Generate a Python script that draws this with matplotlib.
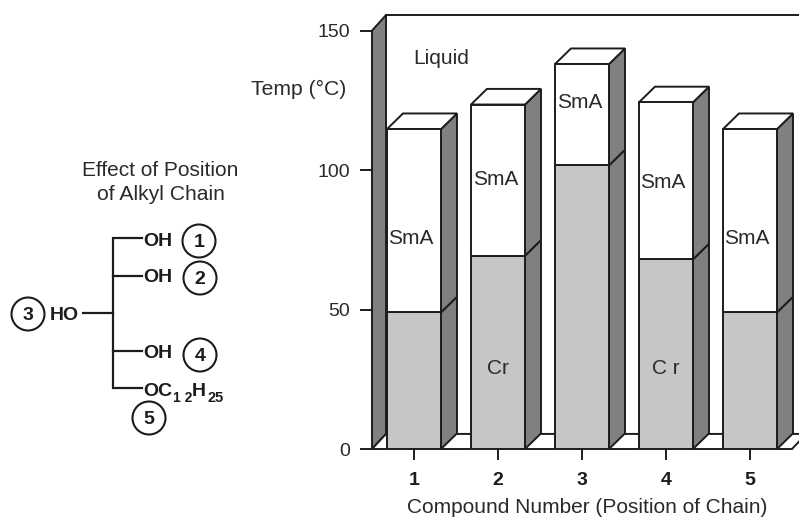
import matplotlib
matplotlib.use('Agg')
import matplotlib.pyplot as plt
from matplotlib.patches import Polygon, Circle

# values
compounds = [1, 2, 3, 4, 5]
cr_top = [49, 69.3, 101.7, 68, 49]
sma_top = [114.7, 123.5, 138, 124.3, 114.7]
temp_ticks = [0, 50, 100, 150]

GREY_FRONT = '#c6c6c6'
GREY_SIDE = '#808080'
INK = '#1c1c1c'
TEXT = '#2a2a2a'
LW = 1.4

plt.rcParams['font.family'] = ['Liberation Sans', 'DejaVu Sans']

fig = plt.figure(figsize=(7.99, 5.17), dpi=100)
ax = fig.add_axes([372 / 799, 68 / 517, 427 / 799, 434 / 517])
ax.set_xlim(0.5, 5.583)
ax.set_ylim(0, 155.6)
for side in ax.spines.values():
    side.set_visible(False)

bar_w = 0.643
dx = 0.19   # bar depth
dy = 5.6
wall_dx = 0.167
wall_dy = 5.4


def poly(pts, color, z):
    ax.add_patch(Polygon(pts, closed=True, facecolor=color, edgecolor=INK,
                         linewidth=LW, joinstyle='miter', clip_on=False, zorder=z))


# left wall, floor and top line
poly([(0.5, 0), (0.5 + wall_dx, wall_dy), (0.5 + wall_dx, 155.6), (0.5, 150)], GREY_SIDE, 1)
poly([(0.5, 0), (0.5 + wall_dx, wall_dy), (5.5 + wall_dx, wall_dy), (5.5, 0)], 'white', 1)
ax.plot([0.5 + wall_dx, 5.583], [155.6, 155.6], color=INK, lw=LW, clip_on=False, zorder=1)

# the bars, left to right
for i, x in enumerate(compounds):
    left = x - bar_w / 2
    right = x + bar_w / 2
    ax.bar(x, cr_top[i], width=bar_w, color=GREY_FRONT, edgecolor=INK, linewidth=LW, zorder=3)
    ax.bar(x, sma_top[i] - cr_top[i], bottom=cr_top[i], width=bar_w, color='white',
           edgecolor=INK, linewidth=LW, zorder=3)
    poly([(right, 0), (right + dx, dy), (right + dx, cr_top[i] + dy), (right, cr_top[i])],
         GREY_SIDE, 2)
    poly([(right, cr_top[i]), (right + dx, cr_top[i] + dy), (right + dx, sma_top[i] + dy),
          (right, sma_top[i])], GREY_SIDE, 2)
    poly([(left, sma_top[i]), (left + dx, sma_top[i] + dy), (right + dx, sma_top[i] + dy),
          (right, sma_top[i])], 'white', 2)

# phase labels
sma_labels = [(0.965, 75.6), (1.97, 96.7), (2.97, 124.4), (3.965, 95.6), (4.965, 75.6)]
for lx, ly in sma_labels:
    ax.text(lx, ly, 'SmA', ha='center', va='center', fontsize=15, color=TEXT, zorder=5)
ax.text(2, 29.0, 'Cr', ha='center', va='center', fontsize=15, color=TEXT, zorder=5)
ax.text(4, 29.0, 'C r', ha='center', va='center', fontsize=15, color=TEXT, zorder=5)
ax.text(1.32, 140, 'Liquid', ha='center', va='center', fontsize=15, color=TEXT, zorder=5)
ax.text(0.19, 129, 'Temp (°C)', ha='right', va='center', fontsize=15.2, color=TEXT,
        clip_on=False, zorder=5)

ax.set_xticks(compounds)
ax.set_xticklabels([str(c) for c in compounds], fontweight='bold', fontsize=14)
ax.set_yticks(temp_ticks)
ax.tick_params(axis='x', length=8, width=LW, pad=8.5, color=INK, labelcolor=INK)
ax.tick_params(axis='y', length=8.5, width=LW, pad=7, labelsize=14, color=INK, labelcolor=TEXT)
ax.set_xlabel('Compound Number (Position of Chain)', fontsize=15, color=TEXT)
ax.xaxis.set_label_coords(0.505, -0.112)
ax.set_zorder(2)

# structure on the left, in picture pixels
s = fig.add_axes([0, 0, 1, 1])
s.set_xlim(0, 799)
s.set_ylim(517, 0)
s.axis('off')
s.set_zorder(1)

s.text(160, 170, 'Effect of Position', ha='center', va='center', fontsize=15, color=TEXT)
s.text(161, 194, 'of Alkyl Chain', ha='center', va='center', fontsize=15.2, color=TEXT)

s.plot([142, 113, 113, 142], [238, 238, 388, 388], color=INK, lw=1.6, solid_joinstyle='miter')
for yy in [276, 351]:
    s.plot([113, 142], [yy, yy], color=INK, lw=1.6)
s.plot([83, 113], [313, 313], color=INK, lw=1.6)

bold = dict(fontweight='bold', color=INK, va='center', ha='left')
for yy in [241, 278, 353]:
    s.text(143, yy, 'OH', fontsize=14, **bold)
s.text(50, 316, 'HO', fontsize=14, **bold)
s.text(143, 391, 'OC', fontsize=14, **bold)
s.text(173, 398, '1 2', fontsize=10, **bold)
s.text(192, 391, 'H', fontsize=14, **bold)
s.text(207, 398, '25', fontsize=10.5, **bold)

circles = [('1', 199, 241), ('2', 200, 278), ('3', 28, 314), ('4', 200, 355), ('5', 149, 418)]
for label, cx, cy in circles:
    s.add_patch(Circle((cx, cy), 16.5, facecolor='white', edgecolor=INK, linewidth=1.5))
    s.text(cx, cy + 1.5, label, ha='center', va='center', fontsize=14, fontweight='bold', color=INK)

fig.savefig('out.png', dpi=100)
